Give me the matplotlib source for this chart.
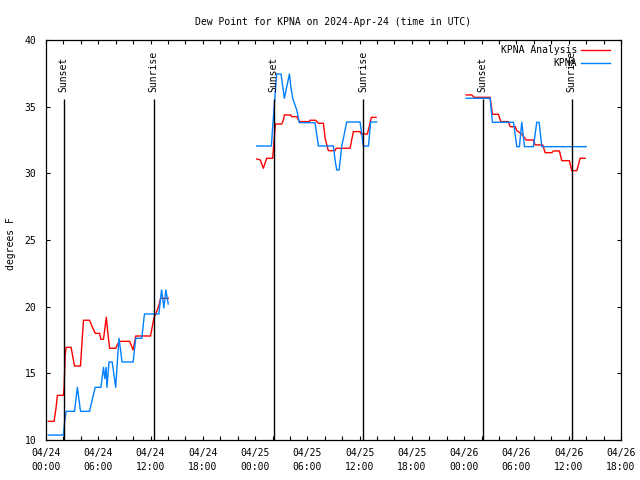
import numpy as np
import matplotlib
matplotlib.use("Agg")
import matplotlib.pyplot as plt

nan = np.nan

# hours since 2024-04-24 00:00 UTC
analysis_t = [0.27, 0.92, 1.15, 1.31, 2.0, 2.08, 2.2, 2.31, 2.88, 3.27, 3.96, 4.11, 4.3, 5.0, 5.3,
              5.65, 6.15, 6.3, 6.6, 6.92, 7.1, 7.3, 8.0, 8.23, 8.46, 9.6, 10.0, 10.3, 12.0, 12.4,
              12.6, 12.96, 13.15, 14.03,
              nan,
              24.19, 24.6, 24.95, 25.33, 26.02, 26.33, 27.06, 27.25, 27.36, 28.09, 28.2, 28.78,
              29.08, 30.23, 30.31, 30.96, 31.27, 31.84, 32.05, 32.41, 33.18, 33.3, 34.9, 35.28,
              36.05, 36.17, 36.89, 37.35, 37.89,
              nan,
              48.22, 48.87, 49.14, 50.98, 51.24, 51.93, 52.2, 53.08, 53.27, 53.85, 54.04, 54.61,
              55.11, 55.95, 56.14, 57.02, 57.29, 58.06, 58.25, 58.93, 59.2, 60.08, 60.35, 60.93,
              61.31, 61.88]
analysis_v = [11.4, 11.4, 12.4, 13.35, 13.35, 13.95, 16.35, 16.95, 16.95, 15.55, 15.55, 17.1, 18.98, 18.98, 18.5,
              18.0, 18.0, 17.55, 17.55, 19.2, 18.0, 16.88, 16.88, 17.2, 17.4, 17.4, 16.75, 17.8, 17.8, 19.2,
              19.45, 20.1, 20.63, 20.63,
              nan,
              31.08, 31.0, 30.38, 31.13, 31.13, 33.7, 33.7, 34.0, 34.38, 34.38, 34.25, 34.25,
              33.88, 33.88, 33.98, 33.98, 33.75, 33.75, 32.6, 31.7, 31.7, 31.88, 31.88, 33.13,
              33.13, 32.95, 32.95, 34.2, 34.2,
              nan,
              35.88, 35.88, 35.7, 35.7, 34.43, 34.43, 33.88, 33.88, 33.5, 33.5, 33.2, 32.95,
              32.5, 32.5, 32.13, 32.13, 31.55, 31.55, 31.68, 31.68, 30.95, 30.95, 30.2, 30.2,
              31.13, 31.13]

obs_t = [0.27, 2.0, 2.12, 2.31, 3.27, 3.6, 3.96, 5.0, 5.3, 5.65, 6.3, 6.6, 6.75, 6.9, 7.0, 7.23,
         7.6, 8.0, 8.15, 8.38, 8.73, 10.0, 10.3, 11.0, 11.3, 12.96, 13.26, 13.53, 13.76, 14.03,
         nan,
         24.19, 25.87, 26.02, 26.48, 26.98, 27.36, 27.94, 28.1, 28.32, 28.78, 29.08, 30.88,
         31.27, 32.99, 33.18, 33.37, 33.64, 33.95, 34.52, 36.05, 36.43, 37.01, 37.27, 37.96,
         nan,
         48.22, 50.98, 51.24, 53.66, 54.04, 54.34, 54.61, 54.92, 55.95, 56.33, 56.6, 56.91,
         62.0]
obs_v = [10.37, 10.37, 11.25, 12.15, 12.15, 13.95, 12.15, 12.15, 13.0, 13.95, 13.95, 15.45, 14.6, 15.45, 13.95, 15.85,
         15.85, 13.95, 15.5, 17.63, 15.85, 15.85, 17.63, 17.63, 19.45, 19.45, 21.25, 19.9, 21.25, 20.2,
         nan,
         32.05, 32.05, 33.5, 37.45, 37.45, 35.63, 37.45, 36.5, 35.63, 34.75, 33.8, 33.8,
         32.05, 32.05, 31.0, 30.25, 30.25, 32.05, 33.85, 33.85, 32.05, 32.05, 33.85, 33.85,
         nan,
         35.63, 35.63, 33.83, 33.83, 32.0, 32.0, 33.83, 32.0, 32.0, 33.83, 33.83, 32.0,
         32.0]

sun_t = [2.1, 12.43, 26.2, 36.43, 50.17, 60.39]
sun_lbl = ["Sunset", "Sunrise", "Sunset", "Sunrise", "Sunset", "Sunrise"]

xtick_h = [0, 6, 12, 18, 24, 30, 36, 42, 48, 54, 60, 66]
xtick_lbl = ["04/24\n00:00", "04/24\n06:00", "04/24\n12:00", "04/24\n18:00",
             "04/25\n00:00", "04/25\n06:00", "04/25\n12:00", "04/25\n18:00",
             "04/26\n00:00", "04/26\n06:00", "04/26\n12:00", "04/26\n18:00"]
ytick_v = [10, 15, 20, 25, 30, 35, 40]

plt.rcParams['font.family'] = ['DejaVu Sans Mono']
FS = 7

fig = plt.figure(figsize=(6.4, 4.8), dpi=100)
ax = fig.add_axes([46/640, 1-440/480, 575/640, 400/480])

ax.plot(analysis_t, analysis_v, color='#ff0000', lw=1.0, label='KPNA Analysis')
ax.plot(obs_t, obs_v, color='#0080ff', lw=1.0, label='KPNA')

for t, lbl in zip(sun_t, sun_lbl):
    ax.vlines(t, 10, 35.6, color='black', lw=1.0)
    ax.text(t - 0.05, 36.1, lbl, rotation=90, ha='center', va='bottom', fontsize=FS)

ax.set_xlim(0, 66)
ax.set_ylim(10, 40)
ax.set_xticks(xtick_h)
ax.set_xticklabels(xtick_lbl, fontsize=FS, linespacing=1.45)
ax.set_xticks(np.arange(0, 67, 2), minor=True)
ax.set_yticks(ytick_v)
ax.set_yticklabels([str(v) for v in ytick_v], fontsize=FS)
ax.tick_params(axis='both', which='both', direction='in', top=True, right=True,
               length=3, width=0.8)
ax.tick_params(axis='x', which='major', pad=6)
ax.tick_params(axis='y', which='major', pad=7)
for s in ax.spines.values():
    s.set_linewidth(0.9)

ax.set_ylabel('degrees F', fontsize=FS)
ax.yaxis.set_label_coords(-0.052, 0.49)
ax.set_title('Dew Point for KPNA on 2024-Apr-24 (time in UTC)', fontsize=FS, pad=11)

ax.legend(loc='upper right', bbox_to_anchor=(0.981, 0.9875), markerfirst=False, frameon=False,
          fontsize=FS, handlelength=3.0, handletextpad=0.4, labelspacing=0.3,
          borderaxespad=0.0, borderpad=0.0)

fig.savefig('out.png', dpi=100)
